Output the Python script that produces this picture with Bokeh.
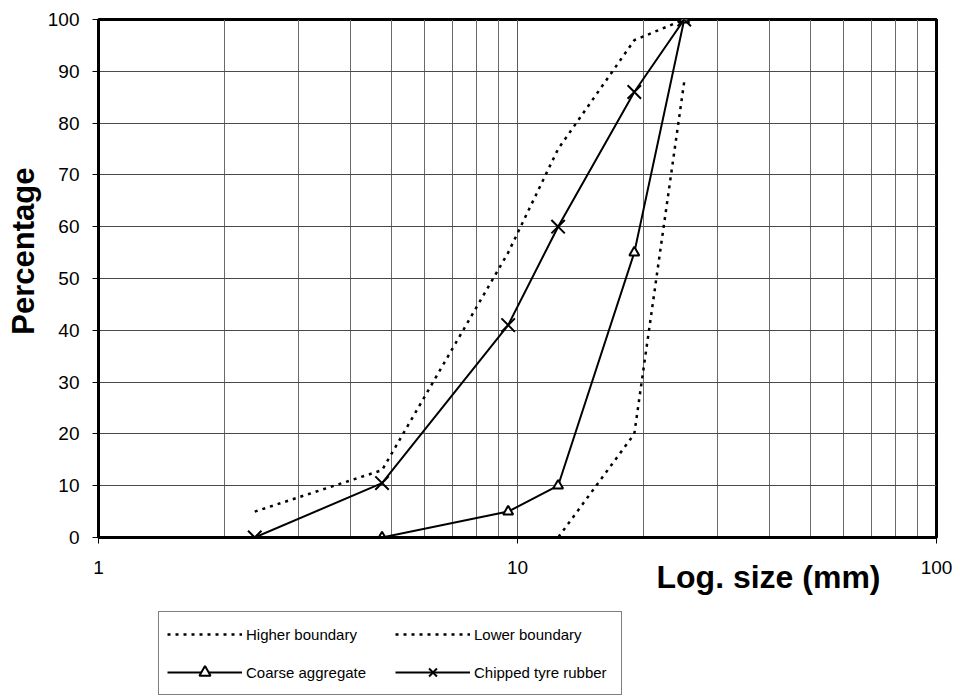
from bokeh.plotting import figure
from bokeh.layouts import column
from bokeh.models import Range1d, FixedTicker, Legend, LegendItem, Title
from bokeh.embed import file_html
from bokeh.resources import INLINE

# ---- data ----
sieve_mm = [2.36, 4.75, 9.5, 12.5, 19, 25]
higher_boundary = [5, 13, 55, 75, 96, 100]
lower_boundary = [0, 0, 0, 0, 20, 88]
coarse_sizes = [4.75, 9.5, 12.5, 19, 25]
coarse_aggregate = [0, 5, 10, 55, 100]
chipped_rubber = [0, 10.5, 41, 60, 86, 100]

x_major_ticks = [1, 10, 100]
x_minor_ticks = [2, 3, 4, 5, 6, 7, 8, 9, 20, 30, 40, 50, 60, 70, 80, 90]
y_ticks = [0, 10, 20, 30, 40, 50, 60, 70, 80, 90, 100]

FONT = "Liberation Sans"

HI_STYLE = dict(line_color="black", line_width=2.5, line_dash="3 5")
LO_STYLE = dict(line_color="black", line_width=2.5, line_dash="3 5")
SOLID = dict(line_color="black", line_width=2)
TRI = dict(marker="triangle", size=10, line_color="black", line_width=2, fill_color="white")
CROSS = dict(marker="x", size=19, line_color="black", line_width=2)

# ---------------- main chart ----------------
p = figure(width=952, height=600, x_axis_type="log",
           x_range=Range1d(1, 100), y_range=Range1d(0, 100),
           output_backend="svg", toolbar_location=None,
           min_border_left=98, min_border_right=16,
           min_border_top=19, min_border_bottom=63)
p.background_fill_color = "white"
p.border_fill_color = "white"
p.outline_line_color = "black"
p.outline_line_width = 3

for ax in (p.xaxis[0], p.yaxis[0]):
    ax.axis_line_color = "black"
    ax.axis_line_width = 3
    ax.major_tick_line_color = "black"
    ax.major_tick_line_width = 1
    ax.major_tick_in = 0
    ax.minor_tick_line_color = None
    ax.major_label_text_font = FONT
    ax.major_label_text_font_size = "19px"
    ax.major_label_text_color = "black"

p.xaxis.ticker = FixedTicker(ticks=x_major_ticks, minor_ticks=x_minor_ticks)
p.xaxis.major_label_overrides = {1: "1", 10: "10", 100: "100"}
p.xaxis.major_tick_out = 6
p.xaxis.major_label_standoff = 17

p.yaxis.ticker = FixedTicker(ticks=y_ticks)
p.yaxis.major_tick_out = 6
p.yaxis.major_label_standoff = 13

p.xgrid.grid_line_color = "#5a5a5a"
p.xgrid.grid_line_width = 1
p.xgrid.minor_grid_line_color = "#6a6a6a"
p.xgrid.minor_grid_line_width = 1
p.ygrid.grid_line_color = "#4a4a4a"
p.ygrid.grid_line_width = 1

p.line(sieve_mm, higher_boundary, **HI_STYLE)
p.line(sieve_mm, lower_boundary, **LO_STYLE)
p.line(coarse_sizes, coarse_aggregate, **SOLID)
p.scatter(coarse_sizes, coarse_aggregate, **TRI)
p.line(sieve_mm, chipped_rubber, **SOLID)
p.scatter(sieve_mm, chipped_rubber, **CROSS)

p.add_layout(Title(text="Log. size (mm)", align="right", offset=56,
                   vertical_align="top", standoff=-36,
                   text_font=FONT, text_font_style="bold", text_font_size="32px",
                   text_color="black"), "below")
p.add_layout(Title(text="Percentage", align="right", offset=148,
                   vertical_align="middle", standoff=6,
                   text_font=FONT, text_font_style="bold", text_font_size="31px",
                   text_color="black"), "left")

# ---------------- legend strip ----------------
lg = figure(width=952, height=97, x_range=Range1d(0, 1), y_range=Range1d(-1, 0),
            output_backend="svg", toolbar_location=None,
            x_axis_location=None, y_axis_location=None,
            min_border=0, min_border_left=0, min_border_right=0,
            min_border_top=0, min_border_bottom=0)
lg.outline_line_color = None
lg.background_fill_color = "white"
lg.border_fill_color = "white"
lg.xgrid.visible = False
lg.ygrid.visible = False

# the same series (outside this strip's visible ranges) feed the legend samples
l_hi = lg.line(sieve_mm, higher_boundary, **HI_STYLE)
l_lo = lg.line(sieve_mm, lower_boundary, **LO_STYLE)
l_co = lg.line(coarse_sizes, coarse_aggregate, **SOLID)
l_co_m = lg.scatter(coarse_sizes, coarse_aggregate, **TRI)
l_ch = lg.line(sieve_mm, chipped_rubber, **SOLID)
l_ch_m = lg.scatter(sieve_mm, chipped_rubber, **CROSS)

legend = Legend(items=[
    LegendItem(label="Higher boundary", renderers=[l_hi]),
    LegendItem(label="Lower boundary", renderers=[l_lo]),
    LegendItem(label="Coarse aggregate", renderers=[l_co, l_co_m]),
    LegendItem(label="Chipped tyre rubber", renderers=[l_ch, l_ch_m]),
], orientation="horizontal", ncols=2, location=(60, 2),
    glyph_width=75, glyph_height=28, label_height=28, label_width=139,
    label_standoff=4, spacing=10, padding=8, margin=0,
    label_text_font=FONT, label_text_font_size="15px", label_text_color="black",
    border_line_color="black", border_line_width=1,
    background_fill_color="white", background_fill_alpha=1)
lg.add_layout(legend)

layout = column(p, lg, spacing=0)
open("out.html", "w").write(file_html(layout, INLINE))
